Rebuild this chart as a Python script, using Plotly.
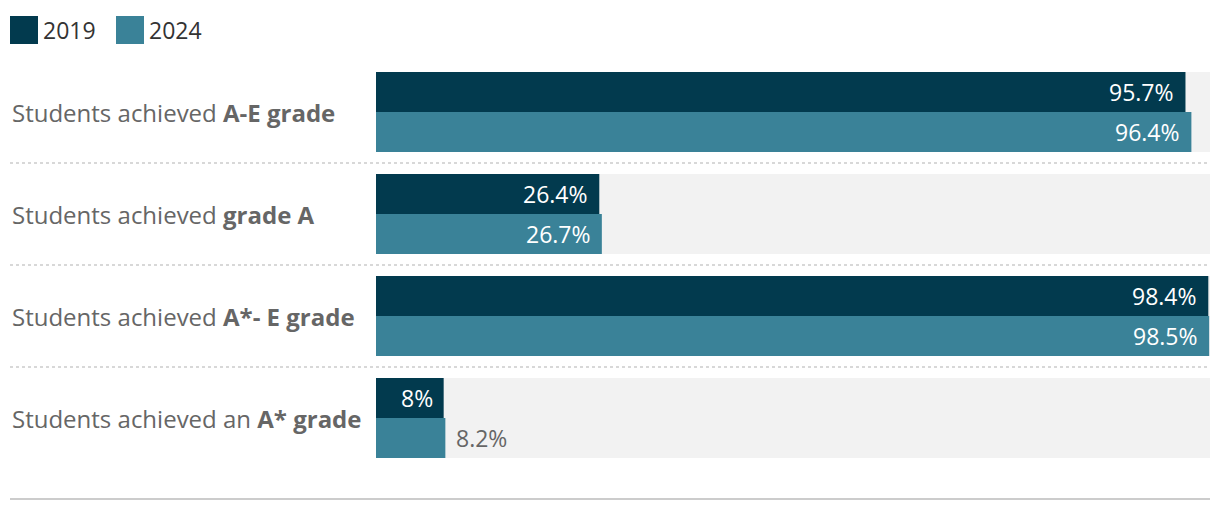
import plotly.graph_objects as go

# ---- data ----
categories = ["A-E grade", "grade A", "A*- E grade", "A* grade"]
label_prefix = ["Students achieved ", "Students achieved ", "Students achieved ", "Students achieved an "]
series_names = ["2019", "2024"]
values_2019 = [95.7, 26.4, 98.4, 8.0]
values_2024 = [96.4, 26.7, 98.5, 8.2]

# ---- style ----
C2019 = "#023a4e"
C2024 = "#3a8298"
BG = "#f2f2f2"
FONT = "'Open Sans', sans-serif"
FS = 23
FS_LABEL = 24
W, H = 1220, 510
ML, MR, MT, MB = 10, 10, 61, 41
PH = H - MT - MB
PW = W - ML - MR
PLOT_LEFT_PX = 376
XMAX = 98.6
ROW_FRAC = 40 / 102

idx = list(range(len(categories)))

fig = go.Figure()
# background bars (full 100 %)
fig.add_trace(go.Bar(
    y=idx, x=[100] * len(idx), orientation="h",
    width=2 * ROW_FRAC, offset=-ROW_FRAC,
    marker=dict(color=BG, line=dict(width=0)),
    hoverinfo="skip", showlegend=False))
for name, vals, col, off in [("2019", values_2019, C2019, -ROW_FRAC),
                             ("2024", values_2024, C2024, 0)]:
    fig.add_trace(go.Bar(
        y=idx, x=vals, orientation="h", name=name,
        width=ROW_FRAC, offset=off,
        marker=dict(color=col, line=dict(width=0)),
        showlegend=False))

annotations = []
# value labels (inside the bar when it is wide enough)
px_per_unit = (PW - (PLOT_LEFT_PX - ML)) / XMAX
for vals, shift in [(values_2019, -ROW_FRAC / 2), (values_2024, ROW_FRAC / 2)]:
    for i, v in enumerate(vals):
        txt = f"{v:g}%"
        inside = v * px_per_unit > 16 + 14 * len(txt)
        annotations.append(dict(
            x=v, y=i + shift, xref="x", yref="y", text=txt, showarrow=False,
            xanchor="right" if inside else "left",
            xshift=-9 if inside else 9, yshift=0,
            font=dict(family=FONT, size=FS, color="#ffffff" if inside else "#666666")))

# row labels
for i, (p, c) in enumerate(zip(label_prefix, categories)):
    annotations.append(dict(
        x=0, y=i, xref="paper", yref="y", text=f"{p}<b>{c}</b>", showarrow=False,
        xanchor="left", xshift=0, yshift=0,
        font=dict(family=FONT, size=FS_LABEL, color="#666666")))

# legend (custom)
legend_x = [10, 116]
shapes = []
for name, col, lx in zip(series_names, [C2019, C2024], legend_x):
    shapes.append(dict(type="rect", xref="paper", yref="paper",
                       x0=(lx - ML) / PW, x1=(lx + 28 - ML) / PW,
                       y0=1 + (MT - 44) / PH, y1=1 + (MT - 16) / PH,
                       fillcolor=col, line=dict(width=0)))
    annotations.append(dict(x=(lx + 31 - ML) / PW, y=1 + (MT - 30) / PH,
                            xref="paper", yref="paper", text=name, showarrow=False,
                            xanchor="left", yanchor="middle",
                            font=dict(family=FONT, size=FS, color="#333333")))

# separators
for k in range(len(categories) - 1):
    shapes.append(dict(type="line", xref="paper", yref="y", x0=0, x1=1, y0=k + 0.5, y1=k + 0.5,
                       line=dict(color="#cccccc", width=1.5, dash="dot")))
# bottom rule
shapes.append(dict(type="line", xref="paper", yref="paper", x0=0, x1=1,
                   y0=-30 / PH, y1=-30 / PH, line=dict(color="#cccccc", width=2)))

fig.update_layout(
    width=W, height=H,
    margin=dict(l=ML, r=MR, t=MT, b=MB),
    paper_bgcolor="white", plot_bgcolor="white",
    barmode="overlay",
    xaxis=dict(range=[0, XMAX], domain=[(PLOT_LEFT_PX - ML) / PW, 1],
               showgrid=False, zeroline=False, showticklabels=False, fixedrange=True),
    yaxis=dict(range=[len(categories) - 0.5, -0.5], showgrid=False, zeroline=False,
               showticklabels=False, fixedrange=True),
    annotations=annotations, shapes=shapes,
    font=dict(family=FONT),
)

fig.write_html("out.html")
